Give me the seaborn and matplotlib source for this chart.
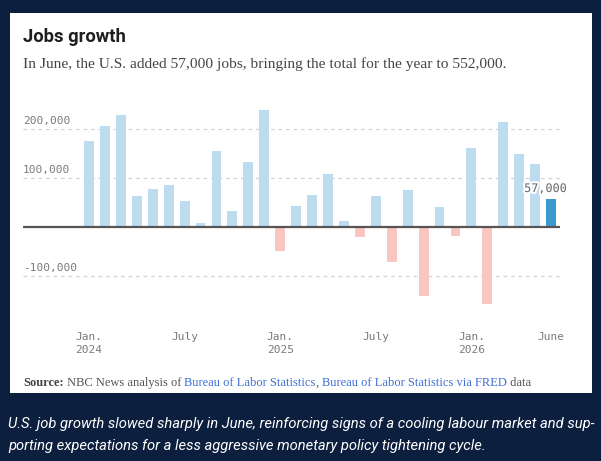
import numpy as np
import pandas as pd
import matplotlib
matplotlib.use("Agg")
import matplotlib.pyplot as plt
import matplotlib.patheffects as pe
from matplotlib.patches import Rectangle
import seaborn as sns

# monthly change in jobs, Jan 2024 .. Jun 2026
months = pd.date_range("2024-01-01", "2026-06-01", freq="MS").strftime("%Y-%m").tolist()
jobs = [174000, 205000, 227000, 64000, 78000, 85000, 53000, 8000, 155000, 33000, 133000, 237000,
        -49000, 42000, 66000, 108000, 12000, -20000, 64000, -71000, 75000, -140000, 40000, -18000,
        160000, -156000, 214000, 148000, 129000, 57000]

tick_pos = [0, 6, 12, 18, 24, 29]
tick_labels = ["Jan.\n2024", "July", "Jan.\n2025", "July", "Jan.\n2026", "June"]
y_ticks = [200000, 100000, -100000]
y_tick_labels = ["200,000", "100,000", "-100,000"]

title = "Jobs growth"
subtitle = "In June, the U.S. added 57,000 jobs, bringing the total for the year to 552,000."
caption_lines = ["U.S. job growth slowed sharply in June, reinforcing signs of a cooling labour market and sup-",
                 "porting expectations for a less aggressive monetary policy tightening cycle."]

df = pd.DataFrame({"month": months, "jobs": jobs})
df["kind"] = np.where(df["jobs"] < 0, "neg", "pos")
df.loc[df.index[-1], "kind"] = "last"
colors = {"pos": "#bddcef", "neg": "#f9c6c2", "last": "#3a9ad0"}

navy = "#0c1f3e"
W, H = 601, 461
fig = plt.figure(figsize=(W / 100, H / 100), dpi=100, facecolor=navy)

# white card
fig.patches.append(Rectangle((10 / W, 1 - 393 / H), 582 / W, 380 / H,
                             transform=fig.transFigure, facecolor="white", edgecolor="none", zorder=-5))

ax = fig.add_axes([23 / W, 1 - 310 / H, 537 / W, 210 / H])
ax.set_facecolor("none")
ax.set_zorder(2)

sns.barplot(data=df, x="month", y="jobs", hue="kind", palette=colors, order=months,
            dodge=False, width=0.62, legend=False, saturation=1, ax=ax, zorder=2)

for v in y_ticks:
    ax.axhline(v, color="#d3d3d3", lw=0.9, dashes=(3, 3), zorder=1)
ax.axhline(0, color="#555555", lw=1.6, zorder=3)

ax.set_xlim(-4.14, 29.56)
ax.set_ylim(-168700, 258100)
ax.set_xticks([])
ax.set_yticks([])
ax.set_xlabel("")
ax.set_ylabel("")
for s in ax.spines.values():
    s.set_visible(False)

mono = "DejaVu Sans Mono"
for v, lab in zip(y_ticks, y_tick_labels):
    ax.annotate(lab, xy=(0, v), xycoords=("axes fraction", "data"), xytext=(0, 3.5),
                textcoords="offset points", ha="left", va="baseline",
                fontsize=8, family=mono, color="#7a7a7a", annotation_clip=False)

for p, lab in zip(tick_pos, tick_labels):
    ax.annotate(lab, xy=(p, 0), xycoords=("data", "axes fraction"), xytext=(0, -16),
                textcoords="offset points", ha="center", va="top", linespacing=1.3,
                fontsize=8, family=mono, color="#7a7a7a", annotation_clip=False)

# label for the latest month
last = len(jobs) - 1
ax.annotate("57,000", xy=(last, jobs[-1]), xytext=(-4, 5), textcoords="offset points",
            ha="center", va="baseline", fontsize=8.5, family=mono, color="#666666",
            path_effects=[pe.withStroke(linewidth=3, foreground="white")], zorder=5)

fig.text(23 / W, 1 - 42 / H, title, fontsize=13.2, fontweight="bold", family="Roboto",
         color="#1e1e1e", va="baseline")
fig.text(23 / W, 1 - 68 / H, subtitle, fontsize=11.1, family="Liberation Serif",
         color="#444444", va="baseline")

# source line built from pieces
renderer = fig.canvas.get_renderer()
pieces = [("Source:", "#444444", "bold"), (" NBC News analysis of ", "#555555", "normal"),
          ("Bureau of Labor Statistics", "#3f6fd8", "normal"), (", ", "#555555", "normal"),
          ("Bureau of Labor Statistics via FRED", "#3f6fd8", "normal"), (" data", "#555555", "normal")]
x = 23
for txt, col, wt in pieces:
    t = fig.text(x / W, 1 - 386 / H, txt, fontsize=9.0, family="Liberation Serif",
                 color=col, fontweight=wt, va="baseline")
    x += t.get_window_extent(renderer).width

# caption, first line fitted to the card width
t1 = fig.text(8 / W, 1 - 428 / H, caption_lines[0], fontsize=11, family="Roboto", style="italic",
              color="white", va="baseline")
w1 = t1.get_window_extent(renderer).width
fs = 11 * 585 / w1
t1.set_fontsize(fs)
fig.text(8 / W, 1 - 450 / H, caption_lines[1], fontsize=fs, family="Roboto", style="italic",
         color="white", va="baseline")

fig.savefig("out.png", dpi=100, facecolor=navy)
